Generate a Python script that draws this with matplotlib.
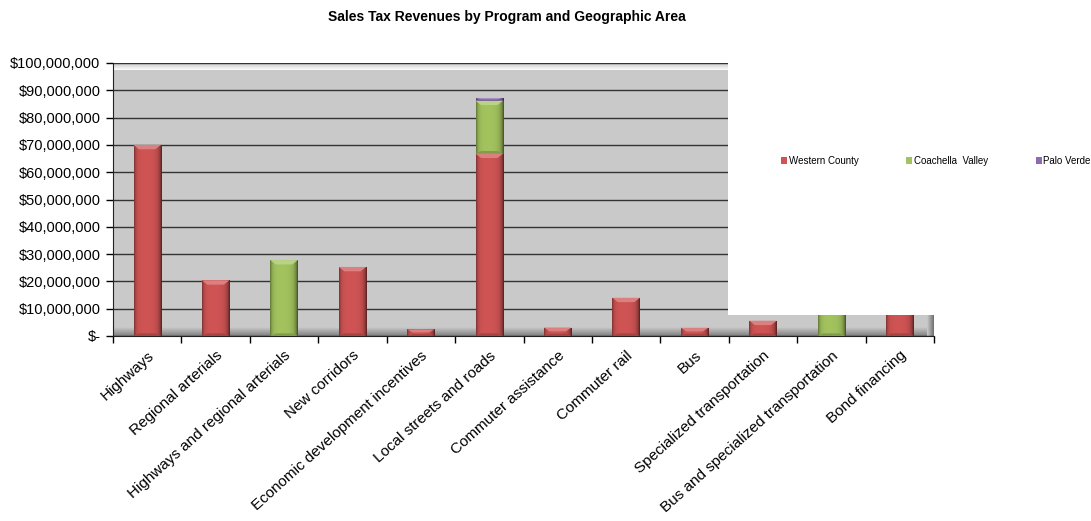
import numpy as np
import matplotlib
matplotlib.use("Agg")
import matplotlib.pyplot as plt
from matplotlib.patches import Rectangle, Polygon
from matplotlib.ticker import FuncFormatter
from matplotlib.colors import to_rgb

plt.rcParams["font.family"] = ["Liberation Sans", "DejaVu Sans"]

programs = [
    "Highways", "Regional arterials", "Highways and regional arterials",
    "New corridors", "Economic development incentives", "Local streets and roads",
    "Commuter assistance", "Commuter rail", "Bus", "Specialized transportation",
    "Bus and specialized transportation", "Bond financing",
]
western_county = [70.0, 20.4, 0, 25.3, 2.4, 66.8, 3.1, 14.0, 3.0, 5.6, 0, 12.0]
coachella_valley = [0, 0, 27.8, 0, 0, 19.4, 0, 0, 0, 0, 10.0, 0]
palo_verde = [0, 0, 0, 0, 0, 1.0, 0, 0, 0, 0, 0, 0]
series_names = ["Western County", "Coachella  Valley", "Palo Verde"]
series_colors = ["#D05454", "#A2C35E", "#8C6BB1"]
y_ticks = np.arange(0, 101, 10)  # millions

SCALE = 1e6


def shade(color, f):
    c = np.array(to_rgb(color))
    if f < 1:
        return tuple(c * f)
    return tuple(c + (1 - c) * (f - 1))


def bevel_bar(ax, x, bottom, height, width, color):
    # flat bar with darkened sides and a light cap, like an Excel bevel
    if height <= 0:
        return
    x0, x1 = x - width / 2, x + width / 2
    y0, y1 = bottom * SCALE, (bottom + height) * SCALE
    rect = Rectangle((x0, y0), width, y1 - y0, facecolor="none", edgecolor="none")
    ax.add_patch(rect)
    t = np.linspace(0, 1, 64)
    f = 1 - 0.4 * np.exp(-t / 0.07) - 0.6 * np.exp(-(1 - t) / 0.1)
    img = np.array([[shade(color, v) for v in f]])
    im = ax.imshow(img, extent=[x0, x1, y0, y1], aspect="auto",
                   interpolation="bilinear", zorder=3)
    im.set_clip_path(rect)
    cap = min(1.6 * SCALE, (y1 - y0) * 0.45)
    inset = width * 0.2
    ax.add_patch(Polygon([(x0, y1), (x1, y1), (x1 - inset, y1 - cap), (x0 + inset, y1 - cap)],
                         closed=True, facecolor=shade(color, 1.25), edgecolor="none", zorder=4))
    ax.add_patch(Polygon([(x0, y0), (x1, y0), (x1 - inset, y0 + cap * 0.6), (x0 + inset, y0 + cap * 0.6)],
                         closed=True, facecolor=shade(color, 0.8), edgecolor="none", zorder=4))


fig = plt.figure(figsize=(10.91, 5.21), dpi=100)
ax = fig.add_axes([113 / 1091, 1 - 336 / 521, 821 / 1091, 273 / 521])
ax.set_facecolor("#C9C9C9")

n = len(programs)
xs = np.arange(n) + 0.5
width = 0.4
for i, x in enumerate(xs):
    base = 0
    for vals, col in zip([western_county, coachella_valley, palo_verde], series_colors):
        bevel_bar(ax, x, base, vals[i], width, col)
        base += vals[i]

# back wall highlight at the top, floor shadow at the bottom, side edge on the right
grad = np.linspace(0, 1, 32)[:, None]
top_img = np.dstack([np.ones((32, 1)) * (0.79 + 0.2 * grad)] * 3)
ax.imshow(top_img, extent=[0, 1, 0.975, 1], transform=ax.transAxes, aspect="auto", zorder=1)
floor_img = np.dstack([np.ones((32, 1)) * (0.5 + 0.29 * grad)] * 3)
ax.imshow(floor_img, extent=[0, 1, 0, 0.03], transform=ax.transAxes, aspect="auto",
          origin="lower", zorder=1)
side = np.linspace(0, 1, 16)[None, :]
side_img = np.dstack([np.ones((1, 16)) * (0.79 - 0.35 * side)] * 3)
ax.imshow(side_img, extent=[0.992, 1, 0, 1], transform=ax.transAxes, aspect="auto", zorder=1)
ax.set_xlim(0, n)
ax.set_ylim(0, 100 * SCALE)

ax.set_yticks(y_ticks * SCALE)
ax.yaxis.set_major_formatter(FuncFormatter(lambda v, p: "$-" if v == 0 else f"${v:,.0f}"))
ax.yaxis.grid(True, color="#333333", linewidth=1.0)
for gl in ax.get_ygridlines():
    gl.set_zorder(2)
ax.set_xticks(np.arange(n + 1))
ax.set_xticklabels([])
ax.set_xticks(xs, minor=True)
ax.set_xticklabels(programs, minor=True, rotation=42, ha="right", va="top",
                   rotation_mode="anchor", fontsize=11)
ax.tick_params(axis="x", which="minor", length=0, pad=9)
ax.tick_params(axis="x", which="major", length=5, direction="out", width=1)
ax.tick_params(axis="y", length=5, direction="out", width=1, labelsize=10.5, pad=4)
for s in ["top", "right"]:
    ax.spines[s].set_visible(False)
ax.spines["left"].set_color("#222222")
ax.spines["bottom"].set_color("#222222")

fig.text(0.465, 0.968, "Sales Tax Revenues by Program and Geographic Area",
         ha="center", va="center", fontsize=10, fontweight="bold")

# white legend panel
fig.patches.append(Rectangle((728 / 1091, 1 - 315 / 521), 1 - 728 / 1091, 315 / 521 - 40 / 521,
                             transform=fig.transFigure, facecolor="white", edgecolor="none",
                             zorder=5))
handles = [Rectangle((0, 0), 1, 1, facecolor=c, edgecolor="none") for c in series_colors]
leg = fig.legend(handles, series_names, loc="center left",
                 bbox_to_anchor=(781 / 1091, 1 - 161 / 521), ncol=3, frameon=False,
                 fontsize=7, handlelength=0.6, handleheight=0.6, handletextpad=0.2,
                 columnspacing=4.9, borderpad=0, borderaxespad=0)
leg.set_zorder(6)

fig.savefig("out.png", dpi=100)
